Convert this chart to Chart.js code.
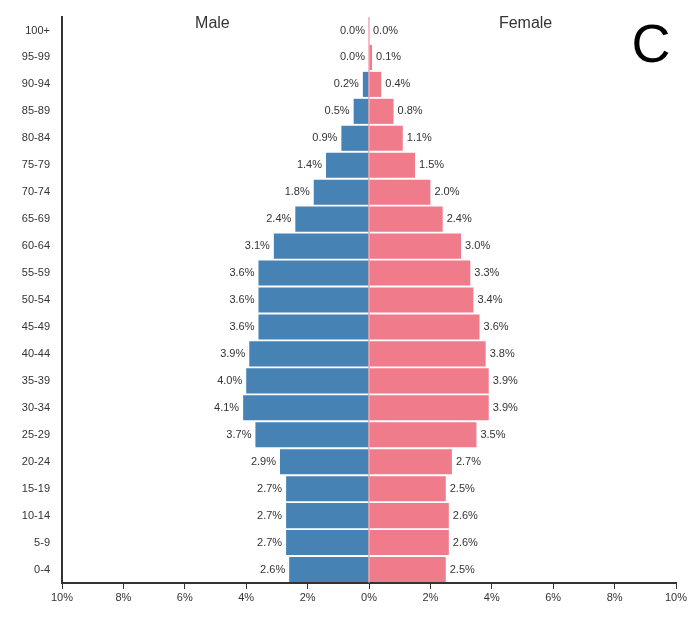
<!DOCTYPE html>
<html><head><meta charset="utf-8">
<script src="https://cdn.jsdelivr.net/npm/chart.js@4"></script>
<style>body{margin:0;background:#fff}#wrap{width:693px;height:621px}</style>
</head><body><div id="wrap"><canvas id="c"></canvas></div>
<script>
// age groups, top to bottom
var ages = ['100+','95-99','90-94','85-89','80-84','75-79','70-74','65-69','60-64','55-59','50-54','45-49','40-44','35-39','30-34','25-29','20-24','15-19','10-14','5-9','0-4'];
var male = [0.0,0.0,0.2,0.5,0.9,1.4,1.8,2.4,3.1,3.6,3.6,3.6,3.9,4.0,4.1,3.7,2.9,2.7,2.7,2.7,2.6];
var female = [0.0,0.1,0.4,0.8,1.1,1.5,2.0,2.4,3.0,3.3,3.4,3.6,3.8,3.9,3.9,3.5,2.7,2.5,2.6,2.6,2.5];

var font = 'Liberation Sans, Arial, sans-serif';

var labelPlugin = {
  id: 'labels',
  afterDatasetsDraw: function(chart) {
    var ctx = chart.ctx;
    ctx.save();
    ctx.font = '11px ' + font;
    ctx.fillStyle = '#333';
    ctx.textBaseline = 'middle';
    chart.getDatasetMeta(0).data.forEach(function(bar, i) {
      ctx.textAlign = 'right';
      ctx.fillText(male[i].toFixed(1) + '%', bar.x - 4, bar.y);
    });
    chart.getDatasetMeta(1).data.forEach(function(bar, i) {
      ctx.textAlign = 'left';
      ctx.fillText(female[i].toFixed(1) + '%', bar.x + 4, bar.y);
    });
    var a = chart.chartArea;
    var x0 = chart.scales.x.getPixelForValue(0);
    ctx.strokeStyle = '#ef7b8b';
    ctx.lineWidth = 1;
    ctx.beginPath(); ctx.moveTo(x0, a.top); ctx.lineTo(x0, a.bottom); ctx.stroke();
    ctx.font = '16px ' + font;
    ctx.textAlign = 'center';
    ctx.fillText('Male', chart.scales.x.getPixelForValue(-5.1), 24);
    ctx.fillText('Female', chart.scales.x.getPixelForValue(5.1), 24);
    ctx.font = '54px ' + font;
    ctx.fillStyle = '#000';
    ctx.fillText('C', 651, 47);
    ctx.restore();
  }
};

new Chart(document.getElementById('c'), {
  type: 'bar',
  data: {
    labels: ages,
    datasets: [
      { label: 'Male', data: male.map(function(v) { return -v; }), backgroundColor: '#4682b4' },
      { label: 'Female', data: female, backgroundColor: '#ef7b8b' }
    ]
  },
  options: {
    indexAxis: 'y',
    responsive: true,
    maintainAspectRatio: false,
    animation: false,
    layout: { padding: { top: 17, right: 17, left: 0, bottom: 0 } },
    datasets: { bar: { categoryPercentage: 1, barPercentage: 0.93 } },
    plugins: { legend: { display: false }, tooltip: { enabled: false } },
    scales: {
      x: {
        min: -10, max: 10,
        ticks: { stepSize: 2, color: '#333', font: { family: font, size: 11 }, padding: 2,
          callback: function(v) { return Math.abs(v) + '%'; } },
        grid: { drawOnChartArea: false, tickLength: 6, color: '#333' },
        border: { color: '#333', width: 2 },
        afterFit: function(s) { s.height = 38; }
      },
      y: {
        stacked: true,
        ticks: { color: '#333', font: { family: font, size: 11 }, padding: 4 },
        grid: { display: false },
        border: { color: '#333', width: 2 },
        afterFit: function(s) { s.width = 62; }
      }
    }
  },
  plugins: [labelPlugin]
});
</script></body></html>
